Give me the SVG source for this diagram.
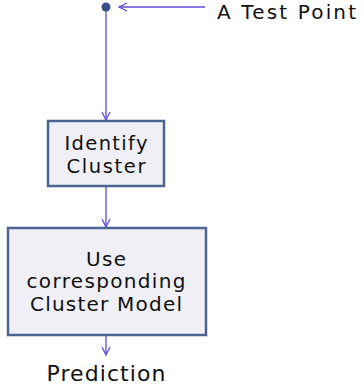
<svg xmlns="http://www.w3.org/2000/svg" width="364" height="389" viewBox="0 0 364 389">
<style>
.box{fill:#efeff5;stroke:#4b6590;stroke-width:2.5}
.t{font-family:"DejaVu Sans",Verdana,sans-serif;fill:#111;text-anchor:middle}
.c{stroke:#5b4fd6;stroke-width:1.3;fill:none}
</style>
<defs>
<marker id="a" markerWidth="10" markerHeight="10" refX="9" refY="5" orient="auto" markerUnits="userSpaceOnUse">
<path d="M1,1 L9,5 L1,9" fill="none" stroke="#5b4fd6" stroke-width="1.3"/>
</marker>
</defs>
<g id="connectors">
<line class="c" x1="205" y1="7" x2="119" y2="7" marker-end="url(#a)"/>
<line class="c" x1="106" y1="10" x2="106" y2="120" marker-end="url(#a)"/>
<line class="c" x1="106" y1="187" x2="106" y2="227" marker-end="url(#a)"/>
<line class="c" x1="106" y1="336" x2="106" y2="355" marker-end="url(#a)"/>
</g>
<g id="testpoint">
<circle cx="106" cy="7" r="4.5" fill="#3a4f85"/>
<text x="217" y="19" font-family="'DejaVu Sans',Verdana,sans-serif" font-size="20" fill="#111" textLength="139" lengthAdjust="spacing">A Test Point</text>
</g>
<g id="identify">
<rect class="box" x="48" y="121" width="116" height="65"/>
<text class="t" x="106" y="150" font-size="19.5" textLength="83" lengthAdjust="spacing">Identify</text>
<text class="t" x="106" y="173" font-size="19.5" textLength="79" lengthAdjust="spacing">Cluster</text>
</g>
<g id="usemodel">
<rect class="box" x="8" y="228" width="198" height="107"/>
<text class="t" x="106" y="266" font-size="20" textLength="40" lengthAdjust="spacing">Use</text>
<text class="t" x="106" y="288" font-size="20" textLength="159" lengthAdjust="spacing">corresponding</text>
<text class="t" x="106" y="311" font-size="20" textLength="152" lengthAdjust="spacing">Cluster Model</text>
</g>
<g id="prediction">
<text class="t" x="106" y="381" font-size="22" textLength="119" lengthAdjust="spacing">Prediction</text>
</g>
</svg>
